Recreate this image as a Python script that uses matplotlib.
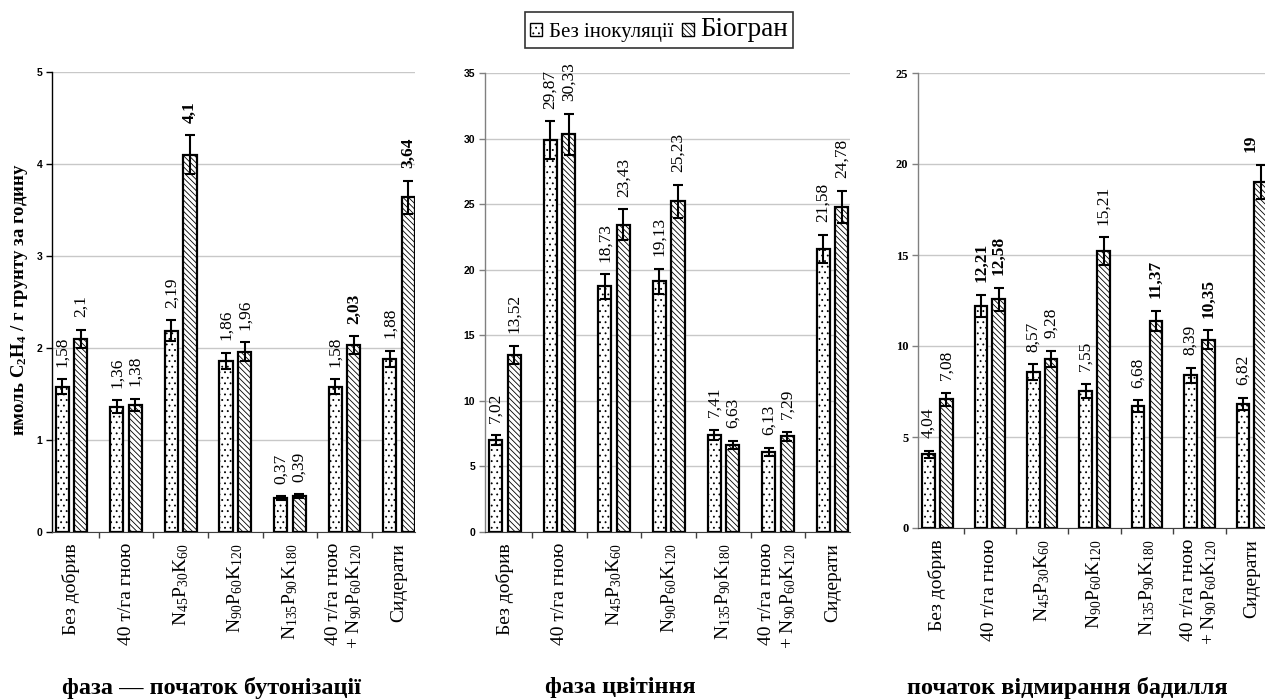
import matplotlib
matplotlib.use("Agg")
import matplotlib.pyplot as plt
from matplotlib.patches import Patch
import numpy as np

plt.rcParams['font.family'] = ['Liberation Serif', 'DejaVu Serif']
plt.rcParams['mathtext.fontset'] = 'custom'
plt.rcParams['mathtext.rm'] = 'Liberation Serif'
plt.rcParams['mathtext.it'] = 'Liberation Serif:italic'
plt.rcParams['mathtext.bf'] = 'Liberation Serif:bold'
plt.rcParams['hatch.linewidth'] = 0.6

# --- data ---
categories = [
    "Без добрив",
    "40 т/га гною",
    r"N$_{45}$P$_{30}$K$_{60}$",
    r"N$_{90}$P$_{60}$K$_{120}$",
    r"N$_{135}$P$_{90}$K$_{180}$",
    "40 т/га гною\n+ N$_{90}$P$_{60}$K$_{120}$",
    "Сидерати",
]
series_names = ["Без інокуляції", "Біогран"]
phases = ["фаза — початок бутонізації", "фаза цвітіння", "початок відмирання бадилля"]

budding_base = [1.58, 1.36, 2.19, 1.86, 0.37, 1.58, 1.88]
budding_bio = [2.10, 1.38, 4.10, 1.96, 0.39, 2.03, 3.64]
budding_base_err = [0.08, 0.07, 0.11, 0.09, 0.02, 0.08, 0.09]
budding_bio_err = [0.10, 0.07, 0.21, 0.10, 0.02, 0.10, 0.18]

flower_base = [7.02, 29.87, 18.73, 19.13, 7.41, 6.13, 21.58]
flower_bio = [13.52, 30.33, 23.43, 25.23, 6.63, 7.29, 24.78]
flower_base_err = [0.35, 1.45, 0.94, 0.96, 0.37, 0.31, 1.08]
flower_bio_err = [0.68, 1.55, 1.17, 1.26, 0.33, 0.36, 1.24]

wilting_base = [4.04, 12.21, 8.57, 7.55, 6.68, 8.39, 6.82]
wilting_bio = [7.08, 12.58, 9.28, 15.21, 11.37, 10.35, 19.00]
wilting_base_err = [0.20, 0.61, 0.43, 0.38, 0.33, 0.42, 0.34]
wilting_bio_err = [0.35, 0.63, 0.46, 0.76, 0.57, 0.52, 0.95]

# labels that look bold in the original (panel, series, index)
bold_labels = {(0, 1, 2), (0, 1, 5), (0, 1, 6),
               (2, 0, 1), (2, 1, 1), (2, 1, 4), (2, 1, 5), (2, 1, 6)}

W, H = 1265, 699
fig = plt.figure(figsize=(W / 100, H / 100), dpi=100)

# axes boxes in pixels: x0, x1, ytop, ybottom
boxes = [(52, 415, 72, 532), (485, 850, 73, 532), (918, 1278, 73, 528)]
xlims = [(-0.357, 6.29), (-0.366, 6.32), (-0.372, 6.5)]
ylims = [(5, 1), (35, 5), (25, 5)]
tick_fonts = ['Liberation Sans', 'Liberation Sans', 'Liberation Serif']
axis_colors = ['black', '#808080', '#808080']
panels = [
    (budding_base, budding_bio, budding_base_err, budding_bio_err),
    (flower_base, flower_bio, flower_base_err, flower_bio_err),
    (wilting_base, wilting_bio, wilting_base_err, wilting_bio_err),
]
title_x = [211, 620, 1067]

err_kw = dict(ecolor='black', elinewidth=1.5, capsize=3.5, capthick=1.5)
dots = '...'
stripes = '\\\\\\\\\\\\'


def fmt(v):
    return f"{v:g}".replace('.', ',')


x = np.arange(len(categories))
w = 0.24
off = 0.17

for p, (box, (ymax, step), data) in enumerate(zip(boxes, ylims, panels)):
    x0, x1, yt, yb = box
    ax = fig.add_axes([x0 / W, (H - yb) / H, (x1 - x0) / W, (yb - yt) / H])
    base, bio, base_err, bio_err = data
    ax.bar(x - off, base, w, yerr=base_err, color='white', edgecolor='black',
           linewidth=1.6, hatch=dots, error_kw=err_kw, zorder=3)
    ax.bar(x + off, bio, w, yerr=bio_err, color='white', edgecolor='black',
           linewidth=1.6, hatch=stripes, error_kw=err_kw, zorder=3)
    ax.set_xlim(*xlims[p])
    ax.set_ylim(0, ymax)

    for s, (vals, errs, sh) in enumerate([(base, base_err, -off), (bio, bio_err, off)]):
        for i, (v, e) in enumerate(zip(vals, errs)):
            # keep labels inside the picture near its right edge
            px = x0 + (i + sh - xlims[p][0]) / (xlims[p][1] - xlims[p][0]) * (x1 - x0)
            dx = min(0, (W - 14 - px) * 0.72)
            ax.annotate(fmt(v), (i + sh, v + e), xytext=(dx, 9),
                        textcoords='offset points', rotation=90,
                        ha='center', va='bottom', fontsize=12.5,
                        fontweight='bold' if (p, s, i) in bold_labels else 'normal',
                        annotation_clip=False, zorder=4)

    ax.set_yticks(np.arange(0, ymax + 0.01, step))
    ax.yaxis.grid(True, color='#c8c8c8', linewidth=1, zorder=0)
    ax.set_axisbelow(True)
    for lab in ax.get_yticklabels():
        lab.set_fontfamily(tick_fonts[p])
        lab.set_fontweight('bold')
        lab.set_fontsize(7.5 if p < 2 else 9)
    ax.tick_params(axis='y', length=4, width=1, pad=3, color=axis_colors[p])

    ax.set_xticks(np.arange(0.5, 6, 1))
    ax.set_xticklabels([])
    ax.set_xticks(x, minor=True)
    ax.set_xticklabels(categories, minor=True, rotation=90, fontsize=14,
                       va='top', ha='center', multialignment='right')
    ax.tick_params(axis='x', which='major', length=4, width=1, color='#404040')
    ax.tick_params(axis='x', which='minor', length=0, pad=8)

    ax.spines['top'].set_visible(False)
    ax.spines['right'].set_visible(False)
    ax.spines['left'].set_linewidth(1)
    ax.spines['left'].set_color(axis_colors[p])
    ax.spines['bottom'].set_color('#404040')

    fig.text(title_x[p] / W, 1 - 688 / H, phases[p], ha='center', va='center',
             fontsize=17.5, fontweight='bold')

fig.text(20 / W, 1 - 300 / H, r"нмоль C$_{\mathbf{2}}$H$_{\mathbf{4}}$ / г грунту за годину",
         rotation=90, ha='center', va='center', fontsize=13.5, fontweight='bold')

handles = [Patch(facecolor='white', edgecolor='black', hatch=dots, linewidth=1),
           Patch(facecolor='white', edgecolor='black', hatch=stripes, linewidth=1)]
leg = fig.legend(handles, series_names, loc='center', bbox_to_anchor=(659 / W, 1 - 30 / H),
                 ncol=2, fontsize=15, frameon=True, fancybox=False, edgecolor='black',
                 handlelength=0.6, handleheight=0.6, handletextpad=0.3,
                 columnspacing=0.4, borderpad=0.25, borderaxespad=0)
leg.get_frame().set_linewidth(1.2)
leg.get_texts()[1].set_fontsize(19.5)

fig.savefig("out.png", dpi=100)
